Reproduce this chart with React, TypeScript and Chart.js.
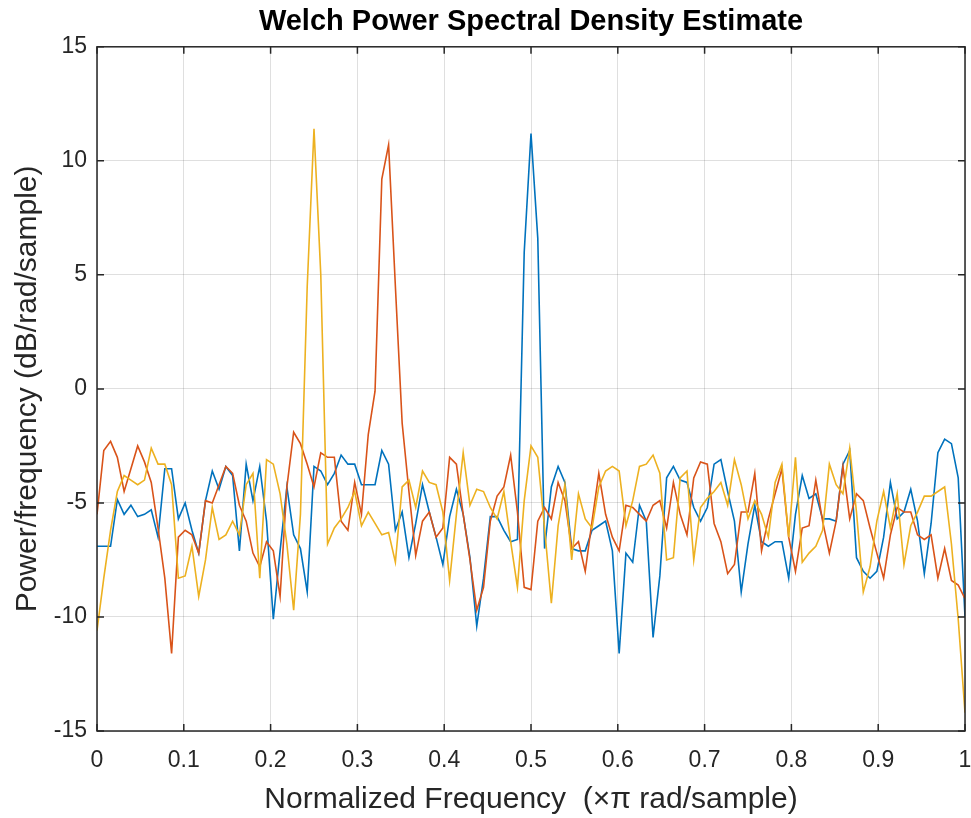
import React, { useEffect, useRef } from "react";
import { Chart, registerables } from "chart.js";

Chart.register(...registerables);

// Frequency bins: 129 bins from 0 to 1 (x pi rad/sample), nfft = 256
const BIN_COUNT = 129;
const FREQ = Array.from({ length: BIN_COUNT }, (_, k) => k / (BIN_COUNT - 1));

const X_TICKS = [0, 0.1, 0.2, 0.3, 0.4, 0.5, 0.6, 0.7, 0.8, 0.9, 1];
const Y_TICKS = [-15, -10, -5, 0, 5, 10, 15];

const TITLE = "Welch Power Spectral Density Estimate";
const X_LABEL = "Normalized Frequency  (\u00D7\u03C0 rad/sample)";
const Y_LABEL = "Power/frequency (dB/rad/sample)";

// channel 1: sinusoid at pi/2
const CH1 = [
  -6.9, -6.9, -6.9, -4.85, -5.5, -5.1, -5.6, -5.5, -5.3, -6.5,
  -3.5, -3.5, -5.7, -5.0, -6.2, -7.2, -4.9, -3.6, -4.4, -3.4,
  -3.8, -7.1, -3.3, -4.9, -3.4, -5.8, -10.1, -7.1, -4.3, -6.4,
  -7.0, -8.9, -3.4, -3.6, -4.2, -3.7, -2.9, -3.3, -3.3, -4.2,
  -4.2, -4.2, -2.7, -3.3, -6.2, -5.4, -7.4, -5.9, -4.2, -5.4,
  -6.5, -7.7, -5.6, -4.4, -5.5, -7.4, -10.4, -8.3, -5.6, -5.6,
  -6.2, -6.7, -6.6, 6.0, 11.2, 6.6, -7.0, -4.3, -3.4, -4.1,
  -7.0, -7.1, -7.1, -6.2, -6.0, -5.8, -7.1, -11.6, -7.2, -7.6,
  -5.1, -5.8, -10.9, -8.2, -3.9, -3.4, -4.0, -4.1, -5.2, -5.8,
  -5.2, -3.3, -3.1, -4.5, -5.8, -8.9, -6.8, -5.1, -6.7, -6.9,
  -6.7, -6.7, -8.3, -5.5, -3.8, -4.8, -4.6, -5.7, -5.7, -5.8,
  -3.3, -2.7, -7.4, -8.0, -8.3, -8.0, -6.5, -4.1, -5.7, -5.4,
  -4.4, -5.8, -8.1, -5.9, -2.8, -2.2, -2.4, -3.9, -10.0,
];

// channel 2: sinusoid at pi/3
const CH2 = [
  -5.5, -2.7, -2.3, -3.0, -4.5, -3.5, -2.5, -3.2, -4.1, -6.1,
  -8.3, -11.6, -6.5, -6.2, -6.4, -7.2, -4.9, -5.0, -4.2, -3.4,
  -3.7, -5.1, -5.8, -7.2, -7.8, -6.7, -7.1, -9.1, -4.3, -1.9,
  -2.4, -3.3, -4.3, -2.8, -3.0, -3.0, -5.8, -6.2, -4.1, -5.5,
  -2.0, -0.1, 9.2, 10.7, 4.5, -1.5, -4.5, -7.3, -5.8, -5.4,
  -6.5, -6.1, -3.0, -3.3, -5.5, -7.5, -9.7, -8.7, -5.8, -4.7,
  -4.3, -2.9, -5.4, -8.7, -8.8, -5.8, -5.2, -5.7, -4.1, -4.9,
  -7.0, -6.7, -8.0, -5.8, -3.7, -5.5, -6.5, -7.1, -5.1, -5.2,
  -5.5, -5.8, -5.1, -4.9, -6.1, -4.1, -5.5, -6.4, -3.9, -3.2,
  -3.3, -5.9, -6.7, -8.1, -7.7, -5.4, -5.4, -3.7, -7.1, -5.7,
  -4.6, -3.5, -6.5, -8.0, -6.1, -6.0, -4.0, -5.8, -7.2, -5.8,
  -3.4, -5.7, -4.6, -4.9, -6.1, -7.2, -8.3, -6.4, -5.2, -5.4,
  -5.4, -6.4, -6.6, -6.4, -8.3, -7.0, -8.4, -8.6, -9.2,
];

// channel 3: sinusoid at pi/4
const CH3 = [
  -10.6, -8.3, -6.2, -4.5, -3.8, -4.0, -4.2, -4.0, -2.6, -3.3,
  -3.3, -4.2, -8.3, -8.2, -6.9, -9.1, -7.5, -5.2, -6.6, -6.4,
  -5.8, -6.4, -4.2, -3.7, -8.3, -3.1, -3.3, -4.6, -6.8, -9.7,
  -5.5, 4.5, 11.4, 5.0, -6.8, -6.1, -5.7, -5.2, -4.5, -6.0,
  -5.4, -5.9, -6.4, -6.3, -7.6, -4.3, -4.0, -5.2, -3.6, -4.1,
  -4.2, -5.4, -8.4, -5.5, -2.8, -5.1, -4.4, -4.5, -5.2, -5.7,
  -4.5, -6.7, -8.7, -4.9, -2.5, -3.0, -6.1, -9.4, -6.0, -4.2,
  -7.5, -4.6, -5.7, -6.1, -4.3, -3.6, -3.4, -3.6, -6.0, -4.9,
  -3.4, -3.3, -2.9, -3.7, -7.5, -7.4, -3.9, -3.6, -7.5, -5.2,
  -4.8, -4.5, -4.1, -5.1, -3.1, -4.2, -5.7, -4.9, -5.5, -6.5,
  -4.1, -3.3, -6.5, -3.0, -7.6, -7.2, -6.9, -6.2, -3.3, -4.2,
  -4.6, -2.6, -5.4, -8.9, -7.8, -5.8, -4.5, -6.1, -4.6, -7.7,
  -6.0, -5.4, -4.7, -4.7, -4.5, -4.3, -6.8, -10.1, -14.2,
];

const COLORS = ["#0072BD", "#D95319", "#EDB120"];
const TEXT = "#262626";
const FONT = "Helvetica, Arial, 'Liberation Sans', sans-serif";

const boxPlugin = {
  id: "matlabBox",
  afterDraw(chart: any) {
    const { ctx, chartArea, scales } = chart;
    const { left, right, top, bottom } = chartArea;
    const xs = scales.x;
    const ys = scales.y;
    ctx.save();
    ctx.strokeStyle = TEXT;
    ctx.lineWidth = 1.5;
    ctx.strokeRect(left, top, right - left, bottom - top);
    const tl = 7;
    ctx.beginPath();
    for (const v of X_TICKS) {
      const px = xs.getPixelForValue(v);
      ctx.moveTo(px, bottom);
      ctx.lineTo(px, bottom - tl);
      ctx.moveTo(px, top);
      ctx.lineTo(px, top + tl);
    }
    for (const v of Y_TICKS) {
      const py = ys.getPixelForValue(v);
      ctx.moveTo(left, py);
      ctx.lineTo(left + tl, py);
      ctx.moveTo(right, py);
      ctx.lineTo(right - tl, py);
    }
    ctx.stroke();
    ctx.restore();
  },
};

export default function App() {
  const ref = useRef<HTMLCanvasElement | null>(null);

  useEffect(() => {
    if (!ref.current) return;
    const series = [CH1, CH2, CH3];
    const chart = new Chart(ref.current, {
      type: "line",
      data: {
        datasets: series.map((vals, i) => ({
          label: `Channel ${i + 1}`,
          data: vals.map((v, k) => ({ x: FREQ[k], y: v })),
          borderColor: COLORS[i],
          backgroundColor: COLORS[i],
          borderWidth: 1.6,
          pointRadius: 0,
          tension: 0,
          fill: false,
          order: 2 - i,
        })),
      },
      options: {
        responsive: false,
        animation: false,
        events: [],
        layout: { padding: { top: 0, right: 6, left: 0, bottom: 0 } },
        plugins: {
          legend: { display: false },
          tooltip: { enabled: false },
          title: {
            display: true,
            text: TITLE,
            color: "#000000",
            fullSize: false,
            font: { family: FONT, size: 29, weight: "bold" },
            padding: { top: 5, bottom: 7 },
          },
        },
        scales: {
          x: {
            type: "linear",
            min: 0,
            max: 1,
            afterBuildTicks: (s: any) => {
              s.ticks = X_TICKS.map((v) => ({ value: v }));
            },
            afterFit: (s: any) => {
              s.height = 87;
              s.paddingLeft = 0;
              s.paddingRight = 0;
            },
            grid: {
              color: "rgba(38,38,38,0.15)",
              lineWidth: 1,
              drawTicks: false,
            },
            border: { display: false },
            ticks: {
              color: TEXT,
              font: { family: FONT, size: 23 },
              padding: 16,
              maxRotation: 0,
              autoSkip: false,
              callback: (v: any) => String(Number(Number(v).toFixed(1))),
            },
            title: {
              display: true,
              text: X_LABEL,
              color: TEXT,
              font: { family: FONT, size: 30 },
              padding: { top: 0, bottom: 0 },
            },
          },
          y: {
            type: "linear",
            min: -15,
            max: 15,
            afterBuildTicks: (s: any) => {
              s.ticks = Y_TICKS.map((v) => ({ value: v }));
            },
            afterFit: (s: any) => {
              s.width = 97;
              s.paddingTop = 0;
              s.paddingBottom = 0;
            },
            grid: {
              color: "rgba(38,38,38,0.15)",
              lineWidth: 1,
              drawTicks: false,
            },
            border: { display: false },
            ticks: {
              color: TEXT,
              font: { family: FONT, size: 23 },
              padding: 10,
              autoSkip: false,
              callback: (v: any) => String(v),
            },
            title: {
              display: true,
              text: Y_LABEL,
              color: TEXT,
              font: { family: FONT, size: 30 },
              padding: { top: 10, bottom: 0 },
            },
          },
        },
      },
      plugins: [boxPlugin],
    });
    return () => chart.destroy();
  }, []);

  return (
    <div style={{ position: "absolute", left: 0, top: 0, width: 971, height: 818, background: "#ffffff" }}>
      <canvas ref={ref} width={971} height={818} style={{ display: "block" }} />
    </div>
  );
}
